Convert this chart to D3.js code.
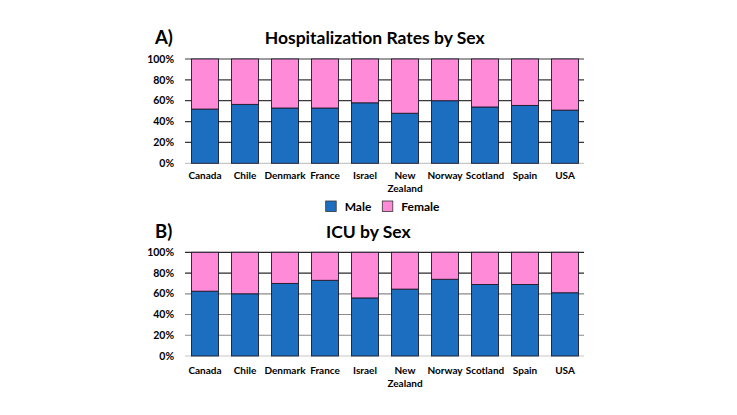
<!DOCTYPE html>
<html><head><meta charset="utf-8">
<script src="https://cdn.jsdelivr.net/npm/d3@7"></script>
<style>
html,body{margin:0;padding:0;background:#fff;}
svg{display:block;}
text{font-family:Lato,"Open Sans",sans-serif;font-weight:bold;fill:#000;}
</style></head>
<body>
<svg id="c" width="737" height="415"></svg>
<script>
const categories = ["Canada","Chile","Denmark","France","Israel","New Zealand","Norway","Scotland","Spain","USA"];
const hospMale   = [52, 56.5, 53, 53, 58, 48, 60, 54, 55.5, 51];
const hospFemale = [48, 43.5, 47, 47, 42, 52, 40, 46, 44.5, 49];
const icuMale    = [62.5, 60, 70, 73, 56, 64.5, 74, 69, 69, 61];
const icuFemale  = [37.5, 40, 30, 27, 44, 35.5, 26, 31, 31, 39];
const yTicks = [0, 20, 40, 60, 80, 100];
const yTickLabels = ["0%","20%","40%","60%","80%","100%"];
const seriesNames = ["Male","Female"];
const colors = {Male:"#1C6EC0", Female:"#FF8AD8"};

const svg = d3.select("#c");

function panel(opts){
  const g = svg.append("g");
  const x = d3.scaleBand().domain(categories).range([185,585]).paddingInner(0.325).paddingOuter(0.1625);
  const y = d3.scaleLinear().domain([0,100]).range([opts.y0, opts.y1]);
  g.selectAll("line.grid").data(yTicks).join("line")
    .attr("x1",185).attr("x2",584)
    .attr("y1",d=>y(d)).attr("y2",d=>y(d))
    .attr("stroke",d=> d===0 ? "#c8c8c8" : opts.gridColor(d))
    .attr("stroke-width",1.2);
  g.selectAll("text.yl").data(yTicks).join("text")
    .attr("x",174).attr("y",d=>y(d)).attr("dy","0.35em")
    .attr("text-anchor","end").attr("font-size",10.5)
    .text((d,i)=>yTickLabels[i]);
  const rows = categories.map((c,i)=>({cat:c, Male:opts.male[i], Female:opts.female[i]}));
  const stack = d3.stack().keys(seriesNames)(rows);
  g.selectAll("g.s").data(stack).join("g")
    .attr("fill",d=>colors[d.key])
    .selectAll("rect").data(d=>d).join("rect")
    .attr("x",d=>x(d.data.cat)).attr("width",x.bandwidth())
    .attr("y",d=>y(d[1])).attr("height",d=>y(d[0])-y(d[1]))
    .attr("stroke","#1b1b2e").attr("stroke-width",0.9);
  const cl = g.selectAll("text.cl").data(categories).join("text")
    .attr("x",d=>x(d)+x.bandwidth()/2).attr("y",opts.labelY)
    .attr("text-anchor","middle").attr("font-size",10);
  cl.each(function(d){
    const parts = d.split(" ");
    const t = d3.select(this);
    parts.forEach((p,k)=>t.append("tspan").attr("x",x(d)+x.bandwidth()/2).attr("dy",k===0?0:13).text(p));
  });
  svg.append("text").attr("x",155).attr("y",opts.titleY).attr("font-size",18.5).text(opts.tag);
  svg.append("text").attr("x",opts.titleX).attr("y",opts.titleY).attr("text-anchor","middle").attr("font-size",17.5).text(opts.title);
}

panel({y0:163.3, y1:59, male:hospMale, female:hospFemale, labelY:178.5,
  titleY:44.3, titleX:374.7, tag:"A)", title:"Hospitalization Rates by Sex",
  gridColor:()=>"#3a3a3a"});
panel({y0:356, y1:252.3, male:icuMale, female:icuFemale, labelY:373.5,
  titleY:237.7, titleX:368.3, tag:"B)", title:"ICU by Sex",
  gridColor:d=> d>=80 ? "#2a2a2a" : "#8a8a8a"});

const leg = svg.append("g");
const legX = [325.7, 382.3];
seriesNames.forEach((s,i)=>{
  leg.append("rect").attr("x",legX[i]).attr("y",201).attr("width",10.5).attr("height",10.5)
    .attr("fill",colors[s]).attr("stroke","#333").attr("stroke-width",0.8);
  leg.append("text").attr("x",legX[i]+19).attr("y",210.5).attr("font-size",12).text(s);
});
</script>
</body></html>
